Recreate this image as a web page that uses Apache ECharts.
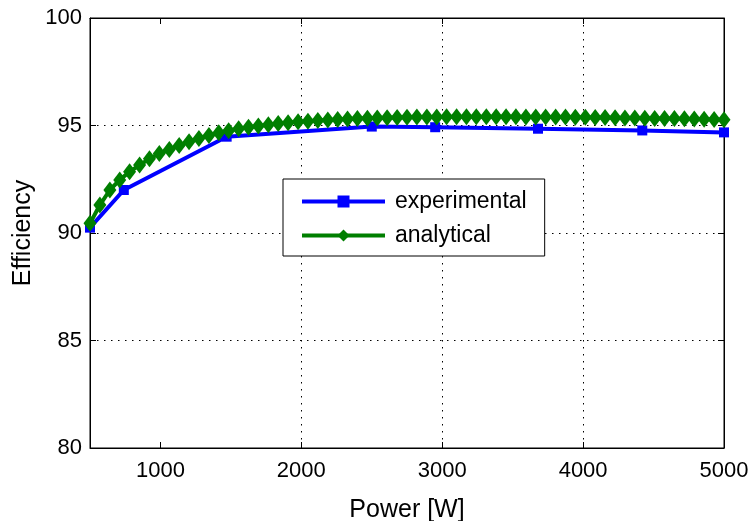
<!DOCTYPE html>
<html>
<head>
<meta charset="utf-8">
<script src="https://cdn.jsdelivr.net/npm/echarts@6/dist/echarts.min.js"></script>
<style>html,body{margin:0;padding:0;background:#fff}#c{width:754px;height:521px}</style>
</head>
<body>
<div id="c"></div>
<script>
const expPower = [500, 740, 1470, 2500, 2950, 3680, 4420, 5000];
const expEff = [90.25, 92.0, 94.48, 94.95, 94.92, 94.85, 94.77, 94.68];

const anaPower = [500, 570, 641, 711, 781, 852, 922, 992, 1063, 1133, 1203, 1273, 1344, 1414, 1484, 1555,
  1625, 1695, 1766, 1836, 1906, 1977, 2047, 2117, 2188, 2258, 2328, 2398, 2469, 2539, 2609, 2680,
  2750, 2820, 2891, 2961, 3031, 3102, 3172, 3242, 3313, 3383, 3453, 3523, 3594, 3664, 3734, 3805,
  3875, 3945, 4016, 4086, 4156, 4227, 4297, 4367, 4438, 4508, 4578, 4648, 4719, 4789, 4859, 4930, 5000];
const anaEff = [90.45, 91.3, 92.0, 92.47, 92.85, 93.16, 93.45, 93.7, 93.88, 94.07, 94.25, 94.4, 94.54, 94.66, 94.76, 94.85,
  94.92, 94.98, 95.04, 95.09, 95.13, 95.17, 95.2, 95.23, 95.26, 95.28, 95.3, 95.32, 95.34, 95.35, 95.36, 95.37,
  95.38, 95.39, 95.4, 95.4, 95.41, 95.41, 95.41, 95.41, 95.41, 95.41, 95.41, 95.41, 95.4, 95.4, 95.4, 95.39,
  95.39, 95.38, 95.38, 95.37, 95.37, 95.36, 95.35, 95.35, 95.34, 95.33, 95.32, 95.32, 95.31, 95.3, 95.29, 95.28, 95.27];

const xTicks = [1000, 2000, 3000, 4000, 5000];
const yTicks = [80, 85, 90, 95, 100];
const seriesNames = ['experimental', 'analytical'];

const FONT = '"Liberation Sans", Arial, Helvetica, sans-serif';
const chart = echarts.init(document.getElementById('c'), null, {renderer: 'canvas'});

const dotted = {color: '#000', width: 1, type: [1.5, 5.5]};

chart.setOption({
  animation: false,
  backgroundColor: '#fff',
  grid: {left: 90, right: 30, top: 18, bottom: 73, show: true, borderColor: '#000', borderWidth: 1,
    backgroundColor: 'transparent', containLabel: false, outerBoundsMode: 'none'},
  legend: {
    orient: 'vertical',
    left: 283, top: 179,
    data: seriesNames,
    backgroundColor: '#fff',
    borderColor: '#000', borderWidth: 1, borderRadius: 0,
    padding: [11, 18, 9, 17],
    itemWidth: 83, itemHeight: 15, itemGap: 11,
    lineStyle: {width: 4},
    textStyle: {fontFamily: FONT, fontSize: 23, color: '#000', lineHeight: 23, padding: [0, 0, 0, 5]}
  },
  xAxis: [{
    type: 'value', min: 500, max: 5000, interval: 500,
    name: 'Power [W]', nameLocation: 'middle', nameGap: 50, nameMoveOverlap: false,
    nameTextStyle: {fontFamily: FONT, fontSize: 25, color: '#000'},
    axisLine: {show: true, lineStyle: {color: '#000', width: 1}},
    axisTick: {show: true, inside: true, length: 6, customValues: xTicks, lineStyle: {color: '#000'}},
    axisLabel: {fontFamily: FONT, fontSize: 22, color: '#000', margin: 12, customValues: xTicks,
      formatter: v => String(v)},
    splitLine: {show: true, showMinLine: false, showMaxLine: false, lineStyle: dotted}
  }, {
    type: 'value', min: 500, max: 5000, interval: 500, position: 'top',
    axisLine: {show: true, lineStyle: {color: '#000', width: 1}},
    axisTick: {show: true, inside: true, length: 6, customValues: xTicks, lineStyle: {color: '#000'}},
    axisLabel: {show: false},
    splitLine: {show: false}
  }],
  yAxis: [{
    type: 'value', min: 80, max: 100, interval: 5,
    name: 'Efficiency', nameLocation: 'middle', nameGap: 54, nameRotate: 90, nameMoveOverlap: false,
    nameTextStyle: {fontFamily: FONT, fontSize: 25, color: '#000'},
    axisLine: {show: true, lineStyle: {color: '#000', width: 1}},
    axisTick: {show: true, inside: true, length: 6, lineStyle: {color: '#000'}},
    axisLabel: {fontFamily: FONT, fontSize: 22, color: '#000', margin: 8, customValues: yTicks,
      formatter: v => String(v)},
    splitLine: {show: true, showMinLine: false, showMaxLine: false, lineStyle: dotted}
  }, {
    type: 'value', min: 80, max: 100, interval: 5, position: 'right',
    axisLine: {show: true, lineStyle: {color: '#000', width: 1}},
    axisTick: {show: true, inside: true, length: 6, lineStyle: {color: '#000'}},
    axisLabel: {show: false},
    splitLine: {show: false}
  }],
  series: [{
    name: seriesNames[0], type: 'line',
    data: expPower.map((p, i) => [p, expEff[i]]),
    symbol: 'rect', symbolSize: 10, showAllSymbol: true,
    lineStyle: {color: '#0000ff', width: 4},
    itemStyle: {color: '#0000ff'},
    z: 2
  }, {
    name: seriesNames[1], type: 'line',
    data: anaPower.map((p, i) => [p, anaEff[i]]),
    symbol: 'diamond', symbolSize: [13, 17], showAllSymbol: true,
    lineStyle: {color: '#007f00', width: 4},
    itemStyle: {color: '#007f00'},
    z: 3
  }]
});
</script>
</body>
</html>
